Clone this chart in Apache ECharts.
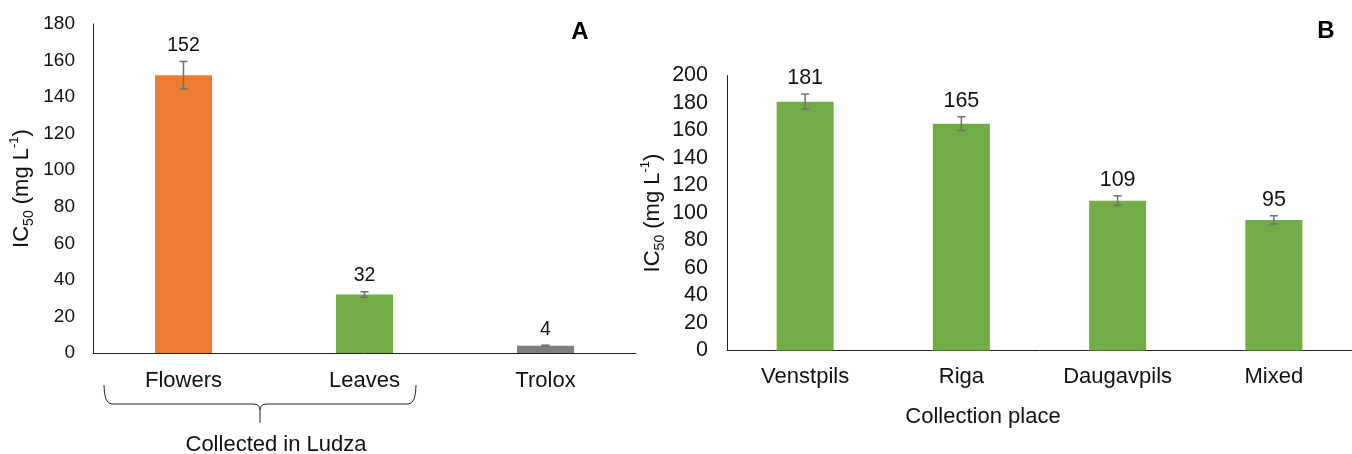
<!DOCTYPE html>
<html><head><meta charset="utf-8">
<script src="https://cdn.jsdelivr.net/npm/echarts@6/dist/echarts.min.js"></script>
<style>html,body{margin:0;padding:0;background:#fff}#c{width:1352px;height:454px}</style>
</head><body><div id="c"></div>
<script>
const categoriesA = ['Flowers', 'Leaves', 'Trolox'];
const valuesA = [152, 32, 4];
const errorsA = [7.5, 1.5, 0.3];
const colorsA = ['#ED7D31', '#70AD47', '#7F7F7F'];
const categoriesB = ['Venstpils', 'Riga', 'Daugavpils', 'Mixed'];
const valuesB = [181, 165, 109, 95];
const errorsB = [5.5, 5, 3.5, 3];
const colorB = '#70AD47';
const yMaxA = 180, yMaxB = 200, yStep = 20;

const FF = '"Liberation Sans", Arial, sans-serif';
const TXT = '#111';

function errorSeries(xi, vals, errs, fontSize) {
  return {
    type: 'custom', xAxisIndex: xi, yAxisIndex: xi, z: 5, silent: true,
    data: vals.map((v, i) => [i, v, errs[i]]),
    renderItem(params, api) {
      const i = api.value(0), v = api.value(1), e = api.value(2);
      const top = api.coord([i, v + e]), bot = api.coord([i, v - e]);
      const x = top[0], cw = 4;
      const st = { stroke: '#707070', lineWidth: 1.5 };
      return { type: 'group', children: [
        { type: 'line', shape: { x1: x, y1: top[1], x2: x, y2: bot[1] }, style: st },
        { type: 'line', shape: { x1: x - cw, y1: top[1], x2: x + cw, y2: top[1] }, style: st },
        { type: 'line', shape: { x1: x - cw, y1: bot[1], x2: x + cw, y2: bot[1] }, style: st },
        { type: 'text', x: x, y: top[1] - 16, style: { text: String(Math.round(v)), fill: TXT, fontSize: fontSize, fontFamily: FF, align: 'center', verticalAlign: 'middle' } }
      ] };
    }
  };
}

const yName = '{a|IC}{sub|50}{a| (mg L}{sup|-1}{a|)}';
function yNameStyle() {
  return {
    fontFamily: FF, color: TXT,
    rich: {
      a: { fontSize: 22, fontFamily: FF, color: TXT, lineHeight: 28, verticalAlign: 'middle' },
      sub: { fontSize: 14, fontFamily: FF, color: TXT, lineHeight: 28, verticalAlign: 'bottom' },
      sup: { fontSize: 13, fontFamily: FF, color: TXT, lineHeight: 28, verticalAlign: 'top' }
    }
  };
}

const axisLineStyle = { show: true, lineStyle: { color: '#222', width: 1 } };
const braceStyle = { stroke: '#222', lineWidth: 1, fill: null };

const option = {
  animation: false,
  backgroundColor: '#fff',
  grid: [
    { left: 93, top: 24, width: 543, height: 329, containLabel: false },
    { left: 727, top: 75.5, width: 636, height: 275, containLabel: false }
  ],
  xAxis: [
    { type: 'category', gridIndex: 0, data: categoriesA, axisTick: { show: false }, axisLine: axisLineStyle,
      axisLabel: { fontSize: 22, fontFamily: FF, color: TXT, margin: 17 } },
    { type: 'category', gridIndex: 1, data: categoriesB, axisTick: { show: false }, axisLine: axisLineStyle,
      axisLabel: { fontSize: 22, fontFamily: FF, color: TXT, margin: 15 } }
  ],
  yAxis: [
    { type: 'value', gridIndex: 0, min: 0, max: yMaxA, interval: yStep, splitLine: { show: false },
      axisLine: axisLineStyle, axisTick: { show: false },
      axisLabel: { fontSize: 19, fontFamily: FF, color: TXT, margin: 18 },
      name: yName, nameLocation: 'middle', nameRotate: 90, nameGap: 57, nameTextStyle: yNameStyle() },
    { type: 'value', gridIndex: 1, min: 0, max: yMaxB, interval: yStep, splitLine: { show: false },
      axisLine: axisLineStyle, axisTick: { show: false },
      axisLabel: { fontSize: 21.5, fontFamily: FF, color: TXT, margin: 19 },
      name: yName, nameLocation: 'middle', nameRotate: 90, nameGap: 60, nameTextStyle: yNameStyle() }
  ],
  series: [
    { type: 'bar', xAxisIndex: 0, yAxisIndex: 0, barWidth: 57,
      data: valuesA.map((v, i) => ({ value: v, itemStyle: { color: colorsA[i] } })) },
    { type: 'bar', xAxisIndex: 1, yAxisIndex: 1, barWidth: 57, itemStyle: { color: colorB }, data: valuesB },
    errorSeries(0, valuesA, errorsA, 19.5),
    errorSeries(1, valuesB, errorsB, 21.5)
  ],
  graphic: [
    { type: 'group', silent: true, children: [
      { type: 'bezierCurve', shape: { x1: 104, y1: 385, cpx1: 104, cpy1: 404, x2: 112, y2: 404 }, style: braceStyle },
      { type: 'line', shape: { x1: 112, y1: 404, x2: 253, y2: 404 }, style: braceStyle },
      { type: 'bezierCurve', shape: { x1: 253, y1: 404, cpx1: 260, cpy1: 404, x2: 260, y2: 410 }, style: braceStyle },
      { type: 'line', shape: { x1: 260, y1: 410, x2: 260, y2: 423 }, style: braceStyle },
      { type: 'bezierCurve', shape: { x1: 260, y1: 410, cpx1: 260, cpy1: 404, x2: 267, y2: 404 }, style: braceStyle },
      { type: 'line', shape: { x1: 267, y1: 404, x2: 408, y2: 404 }, style: braceStyle },
      { type: 'bezierCurve', shape: { x1: 408, y1: 404, cpx1: 416, cpy1: 404, x2: 416, y2: 385 }, style: braceStyle }
    ] },
    { type: 'text', x: 276, y: 445, style: { text: 'Collected in Ludza', fontSize: 22, fontFamily: FF, fill: TXT, align: 'center', verticalAlign: 'middle' } },
    { type: 'text', x: 983, y: 417, style: { text: 'Collection place', fontSize: 22, fontFamily: FF, fill: TXT, align: 'center', verticalAlign: 'middle' } },
    { type: 'text', x: 580, y: 32, style: { text: 'A', fontSize: 24, fontWeight: 'bold', fontFamily: FF, fill: '#000', align: 'center', verticalAlign: 'middle' } },
    { type: 'text', x: 1326, y: 31, style: { text: 'B', fontSize: 24, fontWeight: 'bold', fontFamily: FF, fill: '#000', align: 'center', verticalAlign: 'middle' } }
  ]
};

const chart = echarts.init(document.getElementById('c'), null, { renderer: 'canvas' });
chart.setOption(option);
</script>
</body></html>
